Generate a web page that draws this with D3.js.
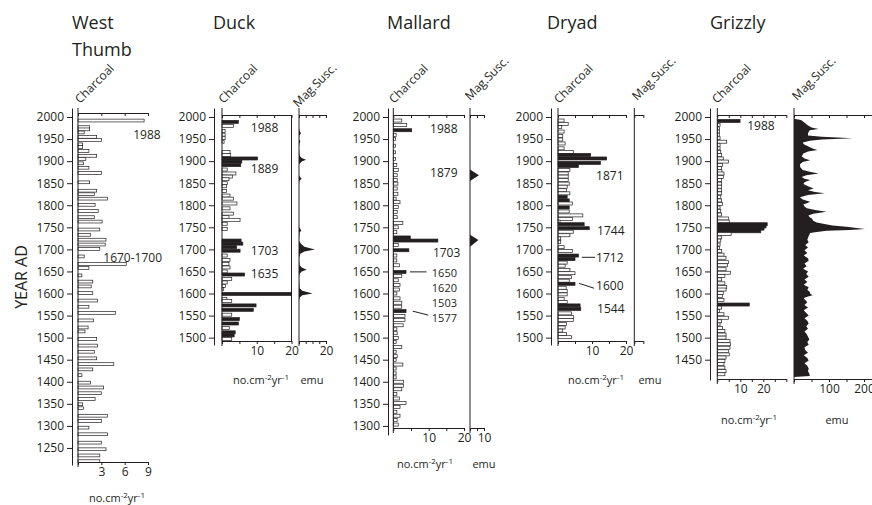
<!DOCTYPE html>
<html><head><meta charset="utf-8">
<script src="https://cdn.jsdelivr.net/npm/d3@7"></script>
<style>
body{margin:0;background:#fff;}
svg text{font-family:"Open Sans",sans-serif;fill:#231f20;}
</style></head><body>
<svg id="c" width="872" height="505"></svg>
<script>
// ---------------- DATA ----------------
const yearTicks = [2000,1950,1900,1850,1800,1750,1700,1650,1600,1550,1500,1450,1400,1350,1300,1250];

// West Thumb charcoal [year, value]
const westThumb = [[1992,8.5],[1977,1.5],[1972,1.5],[1965,0.8],[1955,2.4],[1948,3.0],[1938,0.6],[1932,0.6],[1923,1.4],[1912,2.4],[1905,1.0],[1895,0.7],[1885,1.4],[1873,3.0],[1852,1.5],[1833,2.4],[1825,2.1],[1815,3.8],[1801,2.2],[1787,2.6],[1773,2.1],[1763,3.1],[1745,2.8],[1733,1.6],[1722,3.6],[1711,3.5],[1701,2.8],[1684,0.8],[1667,6.2],[1658,1.4],[1641,0.5],[1627,1.9],[1616,1.7],[1601,1.9],[1584,2.5],[1570,1.4],[1556,4.8],[1539,2.0],[1523,1.3],[1514,0.9],[1497,2.4],[1482,2.5],[1468,2.1],[1453,2.4],[1440,4.6],[1428,1.9],[1415,0.5],[1398,1.6],[1387,3.3],[1374,3.0],[1361,2.2],[1349,0.6],[1340,0.7],[1323,3.8],[1311,3.0],[1296,1.4],[1281,3.8],[1262,3.0],[1247,3.6],[1233,2.8],[1220,2.8]];

// Duck charcoal [year, value, peak]
const duck = [[1989,4.7,1],[1980,3.3,0],[1968,0.9,0],[1960,0.9,0],[1952,0.9,0],[1944,0.6,0],[1921,2.3,0],[1914,2.5,0],[1906,10.2,1],[1899,5.7,1],[1891,5.4,1],[1881,1.5,0],[1872,4.0,0],[1865,3.0,0],[1859,2.0,0],[1850,1.5,0],[1843,1.3,0],[1832,1.3,0],[1822,2.3,0],[1815,3.3,0],[1804,4.3,0],[1793,2.3,0],[1781,3.3,0],[1773,2.0,0],[1767,5.2,0],[1758,1.5,0],[1746,1.5,0],[1720,5.5,1],[1713,6.0,1],[1705,4.2,1],[1697,5.2,1],[1686,1.5,0],[1676,2.3,0],[1667,2.0,0],[1659,2.3,0],[1650,1.5,0],[1643,6.5,1],[1633,2.8,0],[1625,1.5,0],[1617,1.0,0],[1610,0.5,0],[1599,20,1],[1588,1.4,0],[1583,2.8,0],[1573,9.8,1],[1563,9.0,1],[1552,2.8,0],[1542,5.0,1],[1532,4.7,1],[1522,2.1,0],[1512,3.8,1],[1505,3.5,1],[1497,2.8,0]];
// Duck magnetic susceptibility [year, value]
const duckMag = [[2000,0],[1975,0],[1968,0.5],[1963,1.5],[1958,0.3],[1950,0],[1945,1],[1940,0.3],[1930,0],[1912,0.5],[1907,2],[1903,5.2],[1899,2],[1893,0],[1868,0],[1864,0.8],[1860,2],[1856,0.5],[1850,0],[1752,0],[1747,0.8],[1743,1.8],[1738,0.4],[1720,0],[1712,1.5],[1706,4],[1700,11.8],[1695,4],[1690,1],[1680,0],[1664,0.5],[1659,2],[1654,5.7],[1650,2],[1645,0.5],[1635,0],[1612,0.5],[1606,2.5],[1600,10.1],[1596,2.5],[1591,0.5],[1584,0],[1497,0]];

// Mallard charcoal [year, value, peak]
const mallard = [[1992,2.4,0],[1982,3.8,0],[1970,5.2,1],[1959,0.8,0],[1950,0.6,0],[1935,0.6,0],[1920,0.6,0],[1905,0.6,0],[1891,1.0,0],[1880,1.4,0],[1868,1.1,0],[1857,1.1,0],[1849,1.3,0],[1838,1.1,0],[1826,1.3,0],[1815,0.8,0],[1807,1.9,0],[1796,1.4,0],[1785,1.1,0],[1773,1.1,0],[1760,2.7,0],[1750,1.4,0],[1739,1.0,0],[1727,4.8,1],[1720,12.6,1],[1710,1.4,0],[1698,4.4,1],[1686,1.0,0],[1675,1.0,0],[1664,1.7,0],[1649,3.6,1],[1640,2.4,0],[1630,1.4,0],[1619,1.9,0],[1609,1.7,0],[1600,1.0,0],[1589,1.9,0],[1579,2.4,0],[1570,2.4,0],[1560,3.6,1],[1549,3.3,0],[1540,3.3,0],[1528,2.8,0],[1519,1.0,0],[1510,1.1,0],[1499,1.4,0],[1490,0.8,0],[1479,2.4,0],[1468,0.8,0],[1458,1.1,0],[1449,0.8,0],[1439,2.7,0],[1430,0.8,0],[1419,0.8,0],[1410,0.8,0],[1400,2.9,0],[1391,2.9,0],[1383,2.4,0],[1372,1.0,0],[1362,1.7,0],[1352,3.6,0],[1343,1.9,0],[1332,1.0,0],[1323,1.9,0],[1313,1.1,0],[1303,1.4,0]];
const mallardMag = [[2000,0],[1881,0],[1868,6.4],[1855,0],[1733,0],[1721,6],[1706,0],[1300,0]];

// Dryad charcoal [year, value, peak]
const dryad = [[1992,1.8,0],[1984,3.0,0],[1977,1.1,0],[1967,1.8,0],[1957,1.4,0],[1949,1.4,0],[1940,2.1,0],[1929,1.8,0],[1921,4.5,0],[1914,9.6,1],[1906,14.3,1],[1896,12.5,1],[1889,6.0,1],[1880,3.5,0],[1872,3.0,0],[1865,3.0,0],[1857,3.0,0],[1849,3.3,0],[1842,2.7,0],[1834,2.5,0],[1827,3.5,0],[1819,2.7,1],[1811,3.3,1],[1804,4.3,0],[1795,3.3,1],[1786,3.3,0],[1777,7.3,0],[1769,4.3,0],[1763,0.6,0],[1757,7.7,1],[1748,9.2,1],[1740,4.5,0],[1732,3.5,0],[1725,0.8,0],[1717,0.8,0],[1705,1.8,0],[1696,4.3,0],[1686,6.0,1],[1678,5.0,1],[1670,2.7,0],[1663,2.1,0],[1653,3.5,0],[1646,5.0,0],[1637,4.0,0],[1629,3.3,0],[1622,5.0,1],[1613,2.4,0],[1606,2.7,0],[1598,2.7,0],[1588,1.8,0],[1581,2.7,0],[1573,6.5,1],[1565,6.7,1],[1555,4.0,0],[1547,4.5,0],[1540,4.5,0],[1531,2.5,0],[1523,2.1,0],[1516,1.4,0],[1508,2.5,0],[1501,4.0,0]];

// Grizzly charcoal [year, value, peak]
const grizzly = [[1991,9.9,1],[1982,1.2,0],[1974,0.9,0],[1967,0.9,0],[1960,0.9,0],[1952,1.2,0],[1944,4.1,0],[1937,1.2,0],[1929,1.2,0],[1921,1.5,0],[1914,1.9,0],[1906,2.6,0],[1899,4.8,0],[1891,2.3,0],[1884,1.9,0],[1877,2.0,0],[1872,2.9,0],[1864,2.6,0],[1857,1.9,0],[1849,1.9,0],[1842,1.9,0],[1834,1.9,0],[1827,1.9,0],[1819,1.5,0],[1811,1.9,0],[1803,2.3,0],[1795,1.2,0],[1787,1.5,0],[1779,1.9,0],[1770,4.8,0],[1763,5.2,0],[1757,21.7,1],[1752,21.2,1],[1747,20.3,1],[1741,18.9,1],[1735,6.0,0],[1727,1.9,0],[1720,1.5,0],[1711,1.2,0],[1703,0.9,0],[1696,1.9,0],[1688,2.9,0],[1681,3.8,0],[1671,4.8,0],[1664,4.4,0],[1655,3.8,0],[1647,5.8,0],[1640,3.3,0],[1632,1.9,0],[1623,3.3,0],[1615,4.1,0],[1609,3.8,0],[1601,2.6,0],[1594,2.3,0],[1585,2.9,0],[1575,13.9,1],[1568,1.9,0],[1560,0.9,0],[1553,2.9,0],[1545,4.8,0],[1537,1.9,0],[1530,1.2,0],[1522,2.3,0],[1515,3.3,0],[1507,3.8,0],[1500,3.8,0],[1492,5.5,0],[1485,5.8,0],[1477,5.5,0],[1469,4.8,0],[1462,5.2,0],[1455,3.8,0],[1447,3.3,0],[1440,2.9,0],[1432,3.3,0],[1424,3.8,0],[1417,3.3,0]];
const grizzlyMag = [[1996,0],[1993,20],[1989,27],[1982,38],[1976,50],[1973,70],[1970,45],[1964,40],[1958,40],[1955,80],[1952,168],[1949,80],[1946,45],[1942,25],[1938,28],[1933,41],[1928,55],[1925,67],[1922,40],[1917,27],[1911,22],[1906,30],[1902,46],[1898,25],[1893,17],[1886,18],[1880,25],[1876,45],[1872,70],[1868,35],[1864,22],[1860,30],[1857,46],[1852,30],[1848,27],[1843,40],[1838,56],[1834,40],[1830,60],[1827,88],[1823,40],[1818,17],[1813,25],[1808,46],[1804,35],[1802,27],[1797,30],[1793,37],[1789,60],[1785,93],[1781,55],[1777,41],[1773,45],[1770,51],[1765,55],[1761,65],[1758,83],[1754,110],[1751,150],[1748,185],[1746,203],[1744,160],[1742,93],[1739,60],[1737,46],[1732,43],[1728,41],[1722,38],[1716,42],[1710,32],[1704,40],[1698,30],[1692,38],[1686,28],[1680,40],[1674,42],[1668,30],[1662,36],[1656,26],[1650,40],[1644,35],[1638,42],[1632,30],[1626,38],[1620,28],[1614,42],[1608,38],[1604,45],[1600,46],[1596,53],[1593,40],[1590,28],[1585,32],[1580,38],[1574,30],[1568,40],[1562,28],[1556,35],[1550,42],[1544,30],[1538,38],[1532,42],[1526,35],[1520,40],[1514,30],[1508,36],[1502,40],[1496,44],[1490,38],[1484,42],[1478,30],[1472,32],[1466,40],[1460,28],[1454,38],[1448,42],[1442,30],[1436,38],[1430,42],[1424,40],[1418,44],[1413,45],[1411,0]];

// annotations: [text, year-position, value-position, font size]
const wtNotes = [["1988",1950,7.1,12],["1670-1700",1671,3.25,12]];
const duckNotes = [["1988",1967,8.3,12],["1889",1873,8.3,12],["1703",1687,8.3,12],["1635",1635,8.3,12]];
const mallardNotes = [["1988",1964,10.4,12],["1879",1864,10.4,12],["1703",1683,11.2,12],["1650",1638,10.9,11],["1620",1604.5,10.9,11],["1503",1570.5,10.9,11],["1577",1536.5,10.9,11]];
const mallardLeaders = [[1649,4.7,1649,9.4],[1560,5.5,1551,9.9]];
const dryadNotes = [["1871",1857,11.2,12],["1744",1732,11.5,12],["1712",1672,11.2,12],["1600",1608,11.2,12],["1544",1555,11.5,12]];
const dryadLeaders = [[1682,7.0,1682,10.9],[1623,6.2,1612,10.6]];
const grizzlyNotes = [["1988",1970,13,12]];

// ---------------- DRAW ----------------
const INK = "#231f20";
const svg = d3.select("#c");
const y = d3.scaleLinear().domain([2000, 1200]).range([117, 470]);
const TOP = 108;

function styleAxis(g, fs) {
  g.attr("font-size", fs || 12).attr("font-family", "'Open Sans',sans-serif");
  g.selectAll("path,line").attr("stroke", INK).attr("stroke-width", 1);
  g.selectAll("text").attr("fill", INK);
}

function yAxis(ax, bottomPx, minYear) {
  const s = y.copy().domain([y.invert(TOP), y.invert(bottomPx)]).range([TOP, bottomPx]);
  const g = svg.append("g").attr("transform", `translate(${ax},0)`)
    .call(d3.axisLeft(s).tickValues(yearTicks.filter(t => t >= minYear))
      .tickSize(5).tickSizeOuter(0).tickPadding(3).tickFormat(d3.format("d")));
  styleAxis(g, 12);
}

function frame(x, o) {
  const gt = svg.append("g").attr("transform", `translate(0,${o.top})`)
    .call(d3.axisTop(x).tickValues(o.ticks).tickSize(-3).tickSizeOuter(0).tickFormat(""));
  styleAxis(gt);
  const gb = svg.append("g").attr("transform", `translate(0,${o.bot})`)
    .call(d3.axisBottom(x).tickValues(o.ticks).tickSize(3).tickSizeOuter(0).tickPadding(2)
      .tickFormat(d => o.labels.includes(d) ? d : ""));
  styleAxis(gb, 12);
  svg.append("line").attr("x1", x(0)).attr("x2", x(0)).attr("y1", TOP).attr("y2", o.bot + 5)
    .attr("stroke", INK).attr("stroke-width", 1);
  if (o.border) {
    svg.append("line").attr("x1", x.range()[1]).attr("x2", x.range()[1]).attr("y1", o.top).attr("y2", o.bot)
      .attr("stroke", INK).attr("stroke-width", 1);
  }
}

function bars(data, o) {
  const x = d3.scaleLinear().domain([0, o.max]).range([o.x0, o.x1]);
  svg.append("g").selectAll("rect").data(data).join("rect")
    .attr("x", x(0)).attr("y", d => y(d[0]) - o.bh / 2)
    .attr("width", d => x(d[1]) - x(0)).attr("height", o.bh)
    .attr("fill", d => d[2] ? INK : "#fff")
    .attr("stroke", INK).attr("stroke-width", 0.7);
  frame(x, o);
  return x;
}

function mag(data, o) {
  const x = d3.scaleLinear().domain([0, o.max]).range([o.x0, o.x1]);
  if (data) {
    const area = d3.area().y(d => y(d[0])).x0(x(0)).x1(d => x(d[1]));
    svg.append("path").datum(data).attr("d", area).attr("fill", INK).attr("stroke", "none");
  }
  frame(x, o);
  return x;
}

function notes(list, x) {
  list.forEach(n => {
    svg.append("text").attr("x", x(n[2])).attr("y", y(n[1])).attr("font-size", n[3]).text(n[0]);
  });
}
function leaders(list, x) {
  list.forEach(l => {
    svg.append("line").attr("x1", x(l[1])).attr("y1", y(l[0])).attr("x2", x(l[3])).attr("y2", y(l[2]))
      .attr("stroke", INK).attr("stroke-width", 1);
  });
}
function rot(txt, px, py) {
  svg.append("text").attr("transform", `translate(${px},${py}) rotate(-45)`).attr("font-size", 12).text(txt);
}
function title(txt, px, py) {
  svg.append("text").attr("x", px).attr("y", py).attr("font-size", 18).text(txt);
}
function unit(cx, by) {
  const t = svg.append("text").attr("x", cx).attr("y", by).attr("text-anchor", "middle").attr("font-size", 11);
  t.append("tspan").text("no.cm");
  t.append("tspan").attr("font-size", 8).attr("dy", -4).text("-2");
  t.append("tspan").attr("dy", 4).text("yr");
  t.append("tspan").attr("font-size", 8).attr("dy", -4).text("-1");
}
function emu(cx, by) {
  svg.append("text").attr("x", cx).attr("y", by).attr("text-anchor", "middle").attr("font-size", 11).text("emu");
}

// West Thumb
title("West", 72, 29); title("Thumb", 72, 56);
yAxis(72, 465, 1250);
const xWT = bars(westThumb, {max: 9, x0: 78, x1: 148, bh: 2.8, top: 113, bot: 462, ticks: [0,3,6,9], labels: [3,6,9]});
notes(wtNotes, xWT);
rot("Charcoal", 80, 104);
unit(117, 502);

// Duck
title("Duck", 213, 29);
yAxis(214, 345, 1500);
const xDuck = bars(duck, {max: 20, x0: 222, x1: 291.5, bh: 3.0, top: 115, bot: 341, ticks: [0,5,10,15,20], labels: [10,20], border: true});
notes(duckNotes, xDuck);
mag(duckMag, {max: 20, x0: 299, x1: 326, top: 115, bot: 341, ticks: [0,5,10,15,20], labels: [20]});
rot("Charcoal", 223.5, 104); rot("Mag.Susc.", 298, 108);
unit(261, 384); emu(312, 384);

// Mallard
title("Mallard", 387, 29);
yAxis(388, 435, 1300);
const xMal = bars(mallard, {max: 20, x0: 393.3, x1: 464, bh: 3.0, top: 115, bot: 428, ticks: [0,5,10,15,20], labels: [10,20]});
notes(mallardNotes, xMal); leaders(mallardLeaders, xMal);
mag(mallardMag, {max: 10, x0: 470, x1: 484, top: 115, bot: 428, ticks: [0,5,10], labels: [10]});
rot("Charcoal", 394, 104); rot("Mag.Susc.", 470, 101);
unit(425, 468); emu(484, 468);

// Dryad
title("Dryad", 547, 29);
yAxis(551, 345, 1500);
const xDry = bars(dryad, {max: 20, x0: 558, x1: 626, bh: 3.0, top: 115, bot: 341, ticks: [0,5,10,15,20], labels: [10,20]});
notes(dryadNotes, xDry); leaders(dryadLeaders, xDry);
mag(null, {max: 10, x0: 634.3, x1: 643.3, top: 115, bot: 341, ticks: [0,10], labels: []});
rot("Charcoal", 559, 104); rot("Mag.Susc.", 637, 101);
unit(596, 384); emu(650, 384);

// Grizzly
title("Grizzly", 710, 29);
yAxis(710, 380, 1450);
const xGri = bars(grizzly, {max: 30, x0: 717.3, x1: 786.3, bh: 3.0, top: 115, bot: 379, ticks: [0,5,10,15,20,25,30], labels: [10,20]});
notes(grizzlyNotes, xGri);
mag(grizzlyMag, {max: 250, x0: 794, x1: 881.5, top: 115, bot: 379, ticks: [0,50,100,150,200,250], labels: [100,200]});
rot("Charcoal", 717, 104); rot("Mag.Susc.", 797, 101);
unit(749, 424); emu(837, 424);

// shared y label
svg.append("text").attr("transform", "translate(26.5,277) rotate(-90)").attr("text-anchor", "middle")
  .attr("font-size", 16).text("YEAR AD");
</script>
</body></html>
